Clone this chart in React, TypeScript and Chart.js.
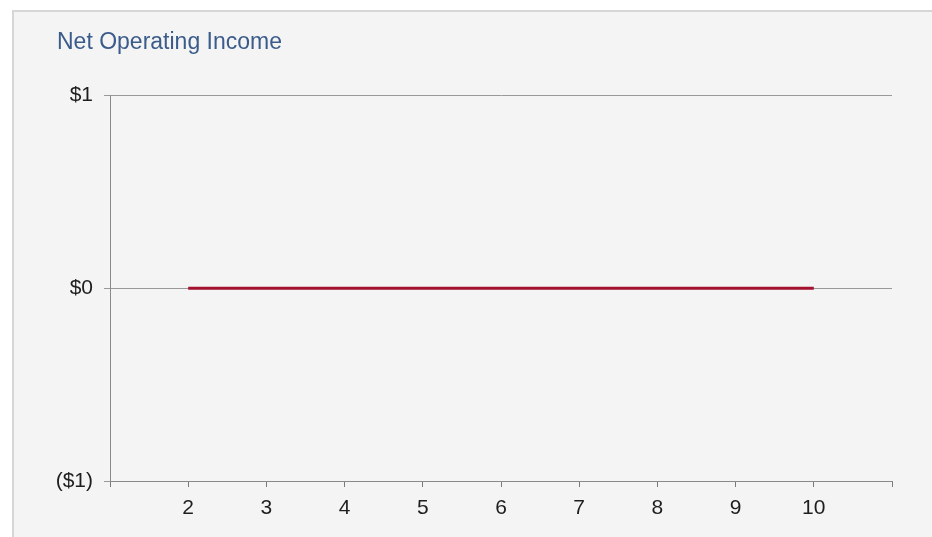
import React, { useEffect, useRef } from "react";
import { Chart, registerables } from "chart.js";

Chart.register(...registerables);

const titleText = "Net Operating Income";
const years = [2, 3, 4, 5, 6, 7, 8, 9, 10];
const netOperatingIncome = [0, 0, 0, 0, 0, 0, 0, 0, 0];
const xMin = 1;
const xMax = 11;
const yMin = -1;
const yMax = 1;

const fmtMoney = (v: number) => (v < 0 ? `($${-v})` : `$${v}`);

export default function App() {
  const ref = useRef<HTMLCanvasElement | null>(null);
  useEffect(() => {
    if (!ref.current) return;
    const font = "'Liberation Sans', Arial, sans-serif";
    const chart = new Chart(ref.current, {
      type: "line",
      data: {
        datasets: [
          {
            label: titleText,
            data: years.map((x, i) => ({ x, y: netOperatingIncome[i] })),
            borderColor: "#a3112f",
            backgroundColor: "#a3112f",
            borderWidth: 3,
            pointRadius: 0,
            tension: 0,
          },
        ],
      },
      options: {
        animation: false,
        responsive: false,
        layout: { padding: { left: 43, right: 40, top: 0, bottom: 0 } },
        plugins: {
          legend: { display: false },
          tooltip: { enabled: false },
          title: {
            display: true,
            text: titleText,
            align: "start",
            color: "#3b5b8b",
            font: { family: font, size: 23, weight: "normal", lineHeight: 1.2 },
            padding: { top: 17, bottom: 39 },
          },
        },
        scales: {
          x: {
            type: "linear",
            min: xMin,
            max: xMax,
            afterFit: (s: any) => {
              s.height = 56;
            },
            ticks: {
              stepSize: 1,
              color: "#1e1e1e",
              font: { family: font, size: 21 },
              padding: 9,
              maxRotation: 0,
              autoSkip: false,
              callback: (v: any) => (v === xMin || v === xMax ? "" : String(v)),
            },
            grid: {
              drawOnChartArea: false,
              drawTicks: true,
              tickLength: 6,
              color: "#7a7a7a",
            },
            border: { display: true, color: "#8a8a8a", width: 1 },
          },
          y: {
            type: "linear",
            min: yMin,
            max: yMax,
            afterFit: (s: any) => {
              s.width = 53;
            },
            ticks: {
              stepSize: 1,
              color: "#1e1e1e",
              font: { family: font, size: 21 },
              padding: 11,
              callback: (v: any) => fmtMoney(Number(v)),
            },
            grid: {
              drawOnChartArea: true,
              drawTicks: true,
              tickLength: 6,
              color: "#999999",
            },
            border: { display: true, color: "#8a8a8a", width: 1 },
          },
        },
      },
    });
    return () => chart.destroy();
  }, []);

  return (
    <div
      style={{
        position: "fixed",
        left: 12,
        top: 10,
        right: 0,
        bottom: 0,
        background: "#f4f4f4",
        borderTop: "2px solid #d6d6d6",
        borderLeft: "2px solid #d6d6d6",
        overflow: "hidden",
      }}
    >
      <canvas ref={ref} width={918} height={525} style={{ display: "block", width: 918, height: 525 }} />
    </div>
  );
}
